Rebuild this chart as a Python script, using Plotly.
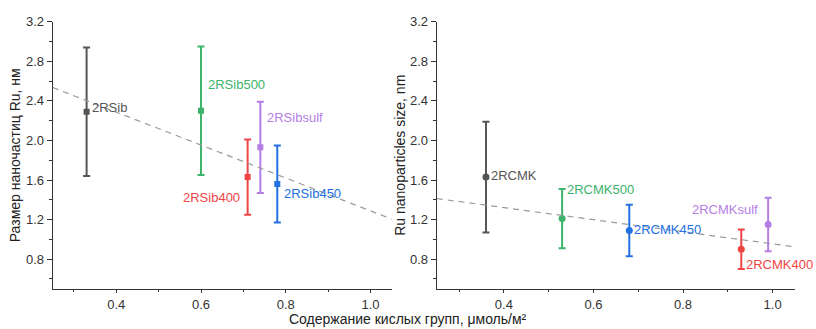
import plotly.graph_objects as go

# ---- data ----
left_names = ["2RSib", "2RSib500", "2RSib400", "2RSibsulf", "2RSib450"]
left_x = [0.33, 0.60, 0.71, 0.74, 0.78]
left_y = [2.29, 2.30, 1.63, 1.93, 1.56]
left_err = [0.65, 0.65, 0.38, 0.46, 0.39]

right_names = ["2RCMK", "2RCMK500", "2RCMK450", "2RCMK400", "2RCMKsulf"]
right_x = [0.36, 0.53, 0.68, 0.93, 0.99]
right_y = [1.63, 1.21, 1.09, 0.90, 1.15]
right_err = [0.56, 0.30, 0.26, 0.20, 0.27]

trend_x = [0.25, 1.05]
trend_left_y = [2.535, 1.205]
trend_right_y = [1.413, 0.924]

left_colors = ["#555555", "#3db36b", "#f04545", "#b57ee6", "#2271e0"]
right_colors = ["#555555", "#3db36b", "#2271e0", "#f04545", "#b57ee6"]

# label placement (offsets in px, anchor)
left_lbl = [(3, -4, "left"), (5, -26, "left"), (-6, 20, "right"), (5, -30, "left"), (5, 10, "left")]
right_lbl = [(3, -2, "left"), (3, -29, "left"), (3, -1, "left"), (3, 15, "left"), (-8, -15, "right")]

W, H = 816, 329
fig = go.Figure()

FONT = "Liberation Sans, Arial, sans-serif"

for i in range(len(left_names)):
    fig.add_trace(go.Scatter(
        x=[left_x[i]], y=[left_y[i]], mode="markers",
        marker=dict(symbol="square", size=6, color=left_colors[i]),
        error_y=dict(type="data", array=[left_err[i]], color=left_colors[i], thickness=2, width=3.5),
        xaxis="x", yaxis="y", showlegend=False, hoverinfo="skip"))
for i in range(len(right_names)):
    fig.add_trace(go.Scatter(
        x=[right_x[i]], y=[right_y[i]], mode="markers",
        marker=dict(symbol="circle", size=7, color=right_colors[i]),
        error_y=dict(type="data", array=[right_err[i]], color=right_colors[i], thickness=2, width=3.5),
        xaxis="x2", yaxis="y2", showlegend=False, hoverinfo="skip"))

fig.add_trace(go.Scatter(x=trend_x, y=trend_left_y, mode="lines",
                         line=dict(color="#9a9a9a", width=1.2, dash="6px,5px"),
                         xaxis="x", yaxis="y", showlegend=False, hoverinfo="skip"))
fig.add_trace(go.Scatter(x=trend_x, y=trend_right_y, mode="lines",
                         line=dict(color="#9a9a9a", width=1.2, dash="6px,5px"),
                         xaxis="x2", yaxis="y2", showlegend=False, hoverinfo="skip"))

annotations = []
for i, n in enumerate(left_names):
    dx, dy, anc = left_lbl[i]
    annotations.append(dict(x=left_x[i], y=left_y[i], xref="x", yref="y", text=n,
                            showarrow=False, xanchor=anc, yanchor="middle",
                            xshift=dx, yshift=-dy,
                            font=dict(family=FONT, size=13, color=left_colors[i])))
for i, n in enumerate(right_names):
    dx, dy, anc = right_lbl[i]
    annotations.append(dict(x=right_x[i], y=right_y[i], xref="x2", yref="y2", text=n,
                            showarrow=False, xanchor=anc, yanchor="middle",
                            xshift=dx, yshift=-dy,
                            font=dict(family=FONT, size=13, color=right_colors[i])))

# axis titles
annotations.append(dict(x=408 / W, y=0, xref="paper", yref="paper",
                        text="Содержание кислых групп, μмоль/м²", showarrow=False,
                        xanchor="center", yanchor="bottom",
                        font=dict(family=FONT, size=14, color="#222222")))
annotations.append(dict(x=15 / W, y=1 - 151.5 / H, xref="paper", yref="paper",
                        text="Размер наночастиц Ru, нм", showarrow=False, textangle=-90,
                        xanchor="center", yanchor="middle",
                        font=dict(family=FONT, size=14, color="#222222")))
annotations.append(dict(x=400.5 / W, y=1 - 151.5 / H, xref="paper", yref="paper",
                        text="Ru nanoparticles size, nm", showarrow=False, textangle=-90,
                        xanchor="center", yanchor="middle",
                        font=dict(family=FONT, size=14, color="#222222")))

def xax(domain, anchor):
    return dict(domain=domain, anchor=anchor, range=[0.25, 1.05], dtick=0.2, tick0=0,
                showgrid=False, zeroline=False, showline=True, linecolor="#333333", linewidth=1.2,
                ticks="outside", ticklen=3, tickcolor="#333333", tickwidth=1,
                minor=dict(ticks="outside", ticklen=2, dtick=0.1, tick0=0, tickcolor="#333333"),
                tickformat=".1f", tickfont=dict(family=FONT, size=13, color="#333333"))

def yax(domain, anchor):
    return dict(domain=domain, anchor=anchor, range=[0.5, 3.2], dtick=0.4, tick0=0,
                showgrid=False, zeroline=False, showline=True, linecolor="#333333", linewidth=1.2,
                ticks="outside", ticklen=5, tickcolor="#333333", tickwidth=1,
                minor=dict(ticks="outside", ticklen=3, dtick=0.2, tick0=0, tickcolor="#333333"),
                tickformat=".1f", tickfont=dict(family=FONT, size=13, color="#333333"))

top, bot = 15, 288
ydom = [1 - bot / H, 1 - top / H]
fig.update_layout(
    width=W, height=H,
    margin=dict(l=0, r=0, t=0, b=0),
    plot_bgcolor="white", paper_bgcolor="white",
    xaxis=xax([52.7 / W, 391.7 / W], "y"),
    yaxis=yax(ydom, "x"),
    xaxis2=xax([436.7 / W, 795 / W], "y2"),
    yaxis2=yax(ydom, "x2"),
    annotations=annotations,
)

fig.write_html("out.html")
